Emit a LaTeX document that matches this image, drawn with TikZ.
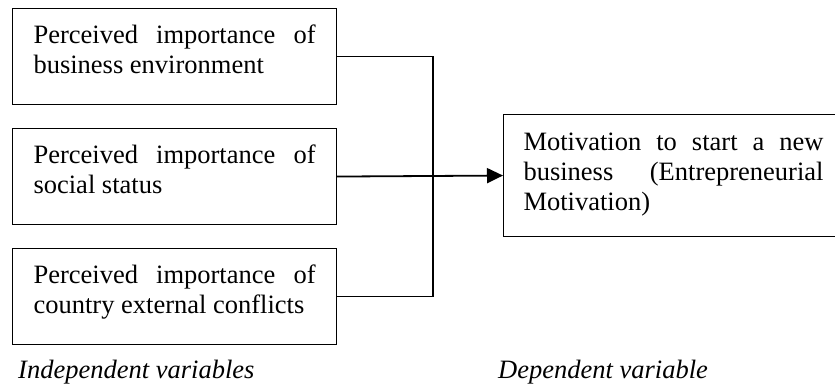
\documentclass[tikz,border=0pt]{standalone}
\usepackage{fontspec}
\setmainfont{Liberation Serif}
\usetikzlibrary{arrows.meta}
\begin{document}
\begin{tikzpicture}[x=1pt,y=-1pt,
    varbox/.style={draw, line width=1.1pt, anchor=north west, align=justify,
      inner xsep=21pt, inner ysep=0pt, text width=282pt,
      text height=35pt, text depth=61pt,
      font=\fontsize{26.5}{30}\selectfont},
    label/.style={anchor=base west, inner sep=0pt,
      font=\fontsize{26.5}{30}\selectfont\itshape}]
      \useasboundingbox (0,0) rectangle (835,390);
      \clip (0,0) rectangle (835,390);
      \node[varbox] (env) at (12,8) {Perceived importance of business environment};
      \node[varbox] (status) at (12,128) {Perceived importance of social status};
      \node[varbox] (conflict) at (12,248) {Perceived importance of country external conflicts};
      \node[varbox, inner xsep=20pt, text width=300pt, text height=36pt, text depth=86pt] (motiv) at (503,114)
        {Motivation to start a new business (Entrepreneurial Motivation)};
      \coordinate (bus) at (433,176);
      \draw[line width=1.3pt] (env.east) -| (bus) |- (conflict.east);
      \draw[line width=1.8pt, -{Triangle[length=16pt, width=15pt]}] (status.east) -- (motiv.west);
      \node[label] (indep) at (18,378) {Independent variables};
      \node[label] (dep) at (498,378) {Dependent variable};
    \end{tikzpicture}
\end{document}
